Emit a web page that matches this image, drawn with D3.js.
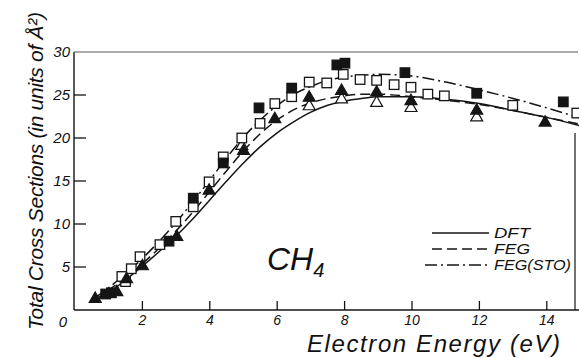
<!DOCTYPE html>
<html>
<head>
<meta charset="utf-8">
<script src="https://cdn.jsdelivr.net/npm/d3@7"></script>
<style>
  body { margin: 0; background: #fff; }
  text { font-family: "Liberation Sans", "DejaVu Sans", sans-serif; font-style: italic; fill: #111; }
</style>
</head>
<body>
<div id="chart"></div>
<script>
var width = 579, height = 358;

// theory curves (energy in eV, cross section in A^2)
var curveX = [0.6, 1, 1.5, 2, 2.5, 3, 3.5, 4, 4.5, 5, 5.5, 6, 6.5, 7, 7.5, 8, 8.5, 9, 10, 11, 12, 13, 14, 15];
var dft    = [1.1, 2.0, 3.5, 5.1, 6.8, 8.6, 10.6, 12.8, 15.0, 17.1, 19.0, 20.6, 21.9, 23.0, 23.8, 24.3, 24.6, 24.8, 24.8, 24.5, 24.0, 23.2, 22.4, 21.4];
var feg    = [1.2, 2.3, 3.8, 5.4, 7.2, 9.2, 11.4, 13.8, 16.2, 18.5, 20.5, 22.1, 23.3, 24.1, 24.6, 24.9, 25.1, 25.1, 24.8, 24.4, 23.9, 23.2, 22.4, 21.6];
var fegSto = [1.4, 2.6, 4.2, 6.0, 8.0, 10.2, 12.6, 15.1, 17.7, 20.1, 22.1, 23.8, 25.1, 26.0, 26.7, 27.1, 27.3, 27.4, 27.2, 26.5, 25.6, 24.6, 23.5, 22.3];

// experimental points
var filledSq = [[0.91, 1.86], [1.08, 2.0], [2.79, 8.0], [3.51, 13.0], [4.4, 17.1], [5.46, 23.5], [6.43, 25.8],
                [7.77, 28.5], [8.01, 28.7], [9.79, 27.6], [11.92, 25.2], [14.49, 24.2]];
var openSq = [[1.5, 3.3], [1.39, 3.9], [1.67, 4.8], [1.93, 6.2], [2.52, 7.6], [2.99, 10.3], [3.51, 12.0], [3.98, 14.9],
              [4.4, 17.8], [4.95, 20.0], [5.49, 21.7], [5.93, 24.0], [6.43, 24.8], [6.95, 26.5], [7.47, 26.4],
              [7.96, 27.4], [8.46, 26.8], [8.95, 26.7], [9.47, 26.2], [9.97, 25.9], [10.47, 25.1], [10.96, 24.9],
              [12.99, 23.8], [14.89, 22.9]];
var openTri = [[4.95, 19.2], [6.95, 23.8], [7.91, 24.6], [8.95, 24.2], [9.97, 23.6], [11.92, 22.5]];
var filledTri = [[0.6, 1.4], [1.24, 2.2], [1.53, 3.7], [2.0, 5.2], [3.02, 8.6], [3.98, 14.0], [5.0, 18.6],
                 [5.93, 22.3], [6.95, 24.8], [7.91, 25.6], [8.95, 25.4], [9.97, 24.4], [11.92, 23.3], [13.95, 21.9]];

var xTicks = [2, 4, 6, 8, 10, 12, 14];
var yTicks = [5, 10, 15, 20, 25, 30];
var legendNames = ["DFT", "FEG", "FEG(STO)"];

var svg = d3.select("#chart").append("svg")
    .attr("width", width)
    .attr("height", height);

var x = d3.scaleLinear().domain([0, 15]).range([75, 580.5]);
var y = d3.scaleLinear().domain([0, 30]).range([310, 52]);

// frame
var ink = "#151515";
svg.append("line").attr("x1", 74).attr("x2", 579).attr("y1", y(0)).attr("y2", y(0))
    .attr("stroke", ink).attr("stroke-width", 1.4);
svg.append("line").attr("x1", 74).attr("x2", 74).attr("y1", y(0)).attr("y2", y(30))
    .attr("stroke", ink).attr("stroke-width", 1.4);
svg.append("line").attr("x1", 74).attr("x2", 578).attr("y1", y(30)).attr("y2", y(30))
    .attr("stroke", "#555").attr("stroke-width", 1.1);
svg.append("line").attr("x1", 575).attr("x2", 575).attr("y1", 133).attr("y2", y(0))
    .attr("stroke", ink).attr("stroke-width", 1.2);

// ticks (inside)
svg.selectAll(".xt").data(xTicks).enter().append("line")
    .attr("x1", function (d) { return x(d); }).attr("x2", function (d) { return x(d); })
    .attr("y1", y(0)).attr("y2", y(0) - 9)
    .attr("stroke", ink).attr("stroke-width", 1.3);
svg.selectAll(".yt").data(yTicks.slice(0, 5)).enter().append("line")
    .attr("x1", 74).attr("x2", 86)
    .attr("y1", function (d) { return y(d); }).attr("y2", function (d) { return y(d); })
    .attr("stroke", ink).attr("stroke-width", 1.3);

svg.selectAll(".xl").data(xTicks).enter().append("text")
    .attr("x", function (d) { return x(d); })
    .attr("y", 325)
    .attr("text-anchor", "middle")
    .style("font-size", "14px")
    .text(function (d) { return d; });
svg.selectAll(".yl").data(yTicks).enter().append("text")
    .attr("x", 70)
    .attr("y", function (d) { return y(d) + 5; })
    .attr("text-anchor", "end")
    .style("font-size", "15px")
    .text(function (d) { return d; });
svg.append("text").attr("x", 63).attr("y", 327).attr("text-anchor", "middle")
    .style("font-size", "15px").text("0");

// axis titles
svg.append("text")
    .attr("x", 307).attr("y", 352)
    .attr("textLength", 253)
    .style("font-size", "24px")
    .text("Electron Energy (eV)");
svg.append("text")
    .attr("transform", "translate(43,330) rotate(-90)")
    .attr("textLength", 318)
    .style("font-size", "21px")
    .text("Total Cross Sections (in units of Å²)");

// CH4 label
var ch = svg.append("text").attr("x", 267).attr("y", 270).style("font-size", "32px");
ch.append("tspan").text("CH");
ch.append("tspan").attr("dy", 7).style("font-size", "20px").text("4");

// curves
var line = d3.line()
    .x(function (d) { return x(d[0]); })
    .y(function (d) { return y(d[1]); })
    .curve(d3.curveMonotoneX);

function pairs(vals) { return curveX.map(function (v, i) { return [v, vals[i]]; }); }

var dashes = [null, "10,5", "12,4,2,4"];
[dft, feg, fegSto].forEach(function (vals, i) {
  svg.append("path")
    .datum(pairs(vals))
    .attr("fill", "none")
    .attr("stroke", ink)
    .attr("stroke-width", 1.5)
    .attr("stroke-dasharray", dashes[i])
    .attr("d", line);
});

// markers
var sq = 9.5;
function squares(data, fill) {
  svg.selectAll(null).data(data).enter().append("rect")
    .attr("x", function (d) { return x(d[0]) - sq / 2; })
    .attr("y", function (d) { return y(d[1]) - sq / 2; })
    .attr("width", sq).attr("height", sq)
    .attr("fill", fill).attr("stroke", ink).attr("stroke-width", 1.3);
}
var tri = d3.symbol().type(d3.symbolTriangle).size(62);
function triangles(data, fill) {
  svg.selectAll(null).data(data).enter().append("path")
    .attr("d", tri)
    .attr("transform", function (d) { return "translate(" + x(d[0]) + "," + (y(d[1]) + 1) + ")"; })
    .attr("fill", fill).attr("stroke", ink).attr("stroke-width", 1.2);
}
triangles(openTri, "#fff");
squares(openSq, "#fff");
squares(filledSq, ink);
triangles(filledTri, ink);

// legend
var legX0 = [432, 432, 425];
var legW = [36, 36, 77];
legendNames.forEach(function (name, i) {
  var yy = 233 + i * 16;
  svg.append("line")
    .attr("x1", legX0[i]).attr("x2", 489).attr("y1", yy).attr("y2", yy)
    .attr("stroke", ink).attr("stroke-width", 1.4)
    .attr("stroke-dasharray", dashes[i]);
  svg.append("text")
    .attr("x", 494).attr("y", yy + 5)
    .attr("textLength", legW[i])
    .attr("lengthAdjust", "spacingAndGlyphs")
    .style("font-size", "14px")
    .text(name);
});
</script>
</body>
</html>
